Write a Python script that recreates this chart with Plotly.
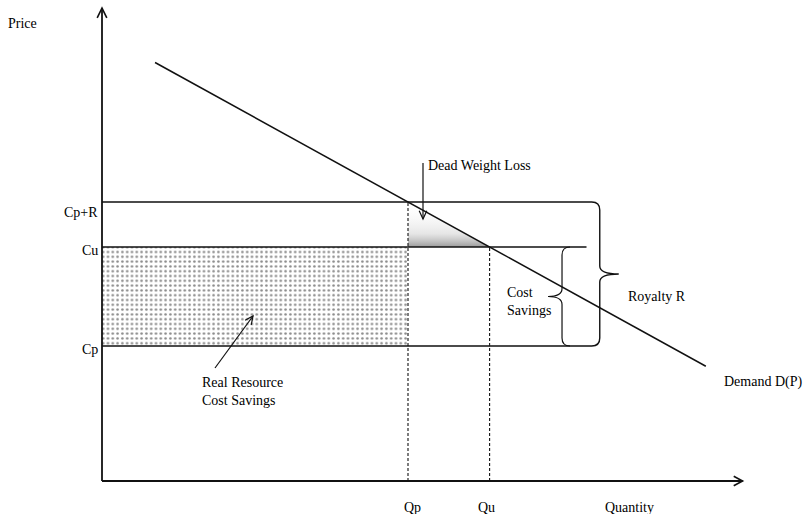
import math
import plotly.graph_objects as go

# ---- chart values (economic units) ----
price_labels = ["Cp", "Cu", "Cp+R"]
price_values = [3.0, 5.2, 6.2]
quantity_labels = ["Qp", "Qu"]
quantity_values = [3.0, 3.8]
demand_q = [0.52, 5.92]
demand_p = [9.3, 2.55]
q_axis_end = 6.28
p_axis_end = 10.51
cu_line_end = 4.75
royalty_brace_x = 4.88
savings_brace_x = 4.51

Cp, Cu, CpR = price_values
Qp, Qu = quantity_values

# ---- layout geometry: whole figure is the plotting area ----
W, H = 805, 514
OX, OY = 102, 481          # pixel position of the origin
SX, SY = 102.0, 45.0       # pixels per unit
XR = [-OX / SX, (W - OX) / SX]
YR = [-(H - OY) / SY, OY / SY]
FONT = dict(family="Liberation Serif, Times New Roman, serif", size=14, color="#000")


def to_px(x, y):
    return ((x - XR[0]) / (XR[1] - XR[0]) * W,
            (YR[1] - y) / (YR[1] - YR[0]) * H)


def to_data(X, Y):
    return (XR[0] + X / W * (XR[1] - XR[0]),
            YR[1] - Y / H * (YR[1] - YR[0]))


def dx(p):
    return p / W * (XR[1] - XR[0])


def dy(p):
    return p / H * (YR[1] - YR[0])


def chevron(fx, fy, tx, ty, length=10, ang=25):
    FX, FY = to_px(fx, fy)
    TX, TY = to_px(tx, ty)
    ux, uy = TX - FX, TY - FY
    n = math.hypot(ux, uy)
    ux, uy = ux / n, uy / n
    pts = []
    for s in (1, -1):
        a = math.radians(ang) * s
        rx = ux * math.cos(a) - uy * math.sin(a)
        ry = ux * math.sin(a) + uy * math.cos(a)
        pts.append(to_data(TX - length * rx, TY - length * ry))
    (x1, y1), (x2, y2) = pts
    return f"M {x1},{y1} L {tx},{ty} L {x2},{y2}"


fig = go.Figure()

# dotted area: real resource cost savings
fig.add_trace(go.Scatter(
    x=[0, Qp, Qp, 0, 0], y=[Cp, Cp, Cu, Cu, Cp], mode="lines",
    fill="toself", line=dict(width=0), fillcolor="white",
    fillpattern=dict(shape=".", size=4.8, solidity=0.22, fgcolor="#111", bgcolor="white"),
    hoverinfo="skip", showlegend=False))

# dead weight loss triangle
fig.add_trace(go.Scatter(
    x=[Qp, Qu, Qp, Qp], y=[CpR, Cu, Cu, CpR], mode="lines",
    fill="toself", line=dict(width=0),
    fillgradient=dict(type="vertical", start=Cu, stop=CpR,
                      colorscale=[[0, "rgba(130,130,130,0.8)"], [0.3, "rgba(200,200,200,0.45)"],
                                  [1, "rgba(255,255,255,0)"]]),
    hoverinfo="skip", showlegend=False))

# demand curve
fig.add_trace(go.Scatter(x=demand_q, y=demand_p, mode="lines",
                         line=dict(color="#111", width=1.5),
                         hoverinfo="skip", showlegend=False))

shapes = []
LW = 1.4
# axes
shapes.append(dict(type="line", x0=0, y0=0, x1=0, y1=p_axis_end, line=dict(color="#111", width=1.8)))
shapes.append(dict(type="line", x0=0, y0=0, x1=q_axis_end, y1=0, line=dict(color="#111", width=1.8)))
shapes.append(dict(type="path", path=chevron(0, 0, 0, p_axis_end, 11, 26), line=dict(color="#111", width=1.6)))
shapes.append(dict(type="path", path=chevron(0, 0, q_axis_end, 0, 10, 28), line=dict(color="#111", width=1.6)))

# Cu line
shapes.append(dict(type="line", x0=0, y0=Cu, x1=cu_line_end, y1=Cu, line=dict(color="#111", width=LW)))

# dashed verticals
shapes.append(dict(type="line", x0=Qp, y0=0, x1=Qp, y1=CpR, line=dict(color="#111", width=1.1, dash="3px,2px")))
shapes.append(dict(type="line", x0=Qu, y0=0, x1=Qu, y1=Cu, line=dict(color="#111", width=1.1, dash="3px,2px")))

# big brace (royalty) joined with Cp+R and Cp lines
rx, ry = dx(8), dy(8)
xb = royalty_brace_x
tipb = dx(19)
midb = (CpR + Cp) / 2
big = (f"M 0,{CpR} L {xb - rx},{CpR} Q {xb},{CpR} {xb},{CpR - ry} "
       f"L {xb},{midb + ry} Q {xb},{midb} {xb + tipb},{midb} "
       f"Q {xb},{midb} {xb},{midb - ry} L {xb},{Cp + ry} Q {xb},{Cp} {xb - rx},{Cp} L 0,{Cp}")
shapes.append(dict(type="path", path=big, line=dict(color="#111", width=LW)))

# small brace (cost savings)
xs = savings_brace_x
tips = dx(14)
mids = (Cu + Cp) / 2
small = (f"M {xs + rx},{Cu} Q {xs},{Cu} {xs},{Cu - ry} "
         f"L {xs},{mids + ry} Q {xs},{mids} {xs - tips},{mids} "
         f"Q {xs},{mids} {xs},{mids - ry} L {xs},{Cp + ry} Q {xs},{Cp} {xs + rx},{Cp}")
shapes.append(dict(type="path", path=small, line=dict(color="#111", width=1.2)))

# pointer arrows
dwl_from = to_data(423, 163)
dwl_to = to_data(423, 219)
rr_from = to_data(215, 368)
rr_to = to_data(253, 316)
for f, t in ((dwl_from, dwl_to), (rr_from, rr_to)):
    shapes.append(dict(type="line", x0=f[0], y0=f[1], x1=t[0], y1=t[1], line=dict(color="#111", width=1.2)))
    shapes.append(dict(type="path", path=chevron(f[0], f[1], t[0], t[1], 9, 25), line=dict(color="#111", width=1.2)))

annotations = []


def label(text, x, y, xanchor="center", yanchor="middle", xshift=0, yshift=0, align="left"):
    annotations.append(dict(text=text, x=x, y=y, xref="x", yref="y", showarrow=False,
                            xanchor=xanchor, yanchor=yanchor, xshift=xshift, yshift=yshift,
                            align=align, font=FONT))


# price labels
for name, val, ys in zip(price_labels, price_values, [-3, -3, -10]):
    label(name, 0, val, xanchor="right", xshift=-2, yshift=ys)
# quantity labels
for name, val, xs_ in zip(quantity_labels, quantity_values, [4, -3]):
    label(name, val, 0, xshift=xs_, yshift=-26)

x_, y_ = to_data(22, 23)
label("Price", x_, y_)
qx, _ = to_data(629, 0)
label("Quantity", qx, 0, yshift=-26)
x_, y_ = to_data(722, 382)
label("Demand D(P)", x_, y_, xanchor="left")
x_, y_ = to_data(626, 296)
label("Royalty R", x_, y_, xanchor="left")
x_, y_ = to_data(505, 301.5)
label("Cost<br>Savings", x_, y_, xanchor="left")
x_, y_ = to_data(200, 391.5)
label("Real Resource<br>Cost Savings", x_, y_, xanchor="left")
x_, y_ = to_data(426, 165)
label("Dead Weight Loss", x_, y_, xanchor="left")

fig.update_layout(
    width=W, height=H,
    margin=dict(l=0, r=0, t=0, b=0, pad=0),
    paper_bgcolor="white", plot_bgcolor="white",
    xaxis=dict(range=XR, visible=False, fixedrange=True),
    yaxis=dict(range=YR, visible=False, fixedrange=True),
    shapes=shapes, annotations=annotations, showlegend=False,
)

fig.write_html("out.html", config={"displayModeBar": False},
               post_script="document.body.style.margin='0';document.body.style.overflow='hidden';")
